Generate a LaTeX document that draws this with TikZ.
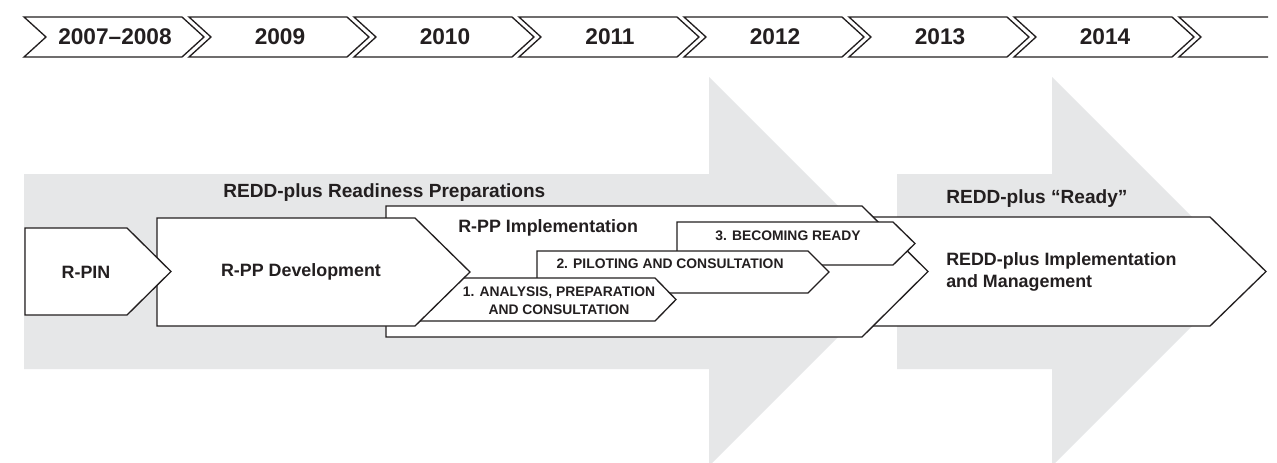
\documentclass[tikz,border=0pt]{standalone}
\usepackage{fontspec}
\setmainfont{Liberation Sans}
\usetikzlibrary{positioning}
\definecolor{inkdark}{HTML}{231F20}
\definecolor{arrowgrey}{HTML}{E6E7E8}

\tikzset{
  stagebox/.style={draw=inkdark, fill=white, line width=1pt, line join=miter},
  yearlabel/.style={inkdark, font=\fontsize{17}{17}\selectfont\bfseries},
  stagelabel/.style={inkdark, inner sep=0pt, font=\fontsize{13.4}{16.5}\selectfont\bfseries},
  headlabel/.style={inkdark, inner sep=0pt, anchor=base west, font=\fontsize{14.3}{17}\selectfont\bfseries},
  phaselabel/.style={inkdark, inner sep=0pt, font=\fontsize{10.4}{13.5}\selectfont\bfseries}
}

\begin{document}
\begin{tikzpicture}[x=0.75pt, y=-0.75pt]
  \clip (0,0) rectangle (1277,462);
  \fill[white] (0,0) rectangle (1277,462);

  % Year ribbon
  \foreach \yr [count=\i from 0] in {2007--2008, 2009, 2010, 2011, 2012, 2013, 2014} {
    \draw[stagebox] (24+165*\i, 17) -- ++(158,0) -- ++(22,20) -- ++(-22,20) -- ++(-158,0) -- ++(22,-20) -- cycle;
    \node[yearlabel] (year\i) at (115+165*\i, 37) {\yr};
  }
  % open chevron at the end of the ribbon
  \draw[stagebox, fill=none] (1268,17) -- (1179,17) -- (1201,37) -- (1179,57) -- (1268,57);

  % Big grey arrows: readiness, then ready
  \fill[arrowgrey] (24,174) -- (709,174) -- (709,77) -- (903.5,271.5) -- (709,466) -- (709,369) -- (24,369) -- cycle;
  \fill[arrowgrey] (897,174) -- (1052,174) -- (1052,77) -- (1246.5,271.5) -- (1052,466) -- (1052,369) -- (897,369) -- cycle;

  % Stage boxes, back to front
  \draw[stagebox] (800,217) -- (1210,217) -- (1266,271.5) -- (1210,326) -- (800,326) -- cycle;
  \draw[stagebox] (386,206) -- (862,206) -- (928,271.5) -- (862,337) -- (386,337) -- cycle;
  \draw[stagebox] (677,222) -- (893,222) -- (915,243.5) -- (893,265) -- (677,265) -- cycle;
  \draw[stagebox] (537,251) -- (808,251) -- (829,272) -- (808,293) -- (537,293) -- cycle;
  \draw[stagebox] (400,278) -- (655,278) -- (676,299.5) -- (655,321) -- (400,321) -- cycle;
  \draw[stagebox] (157,218) -- (415,218) -- (470,272) -- (415,326) -- (157,326) -- cycle;
  \draw[stagebox] (25,228) -- (127,228) -- (171,271.5) -- (127,315) -- (25,315) -- cycle;

  % Headings over the grey arrows
  \node[headlabel] (readiness) at (223,197) {REDD-plus Readiness Preparations};
  \node[headlabel] (ready) at (946,203) {REDD-plus “Ready”};

  % Stage labels
  \node[stagelabel] (rpin) at (86,272) {R-PIN};
  \node[stagelabel] (rppdev) at (301,272) {R-PP Development};
  \node[stagelabel, anchor=base west] (rppimpl) at (458,232) {R-PP Implementation};
  \node[stagelabel, anchor=west, align=left] (reddimpl) at (946,272.4) {REDD-plus Implementation\\and Management};

  % Phases inside the implementation box
  \node[phaselabel, align=center] (phase1) at (559,301) {1. ANALYSIS, PREPARATION\\AND CONSULTATION};
  \node[phaselabel, anchor=base] (phase2) at (670,268) {2. PILOTING AND CONSULTATION};
  \node[phaselabel, anchor=base] (phase3) at (788,240) {3. BECOMING READY};
\end{tikzpicture}
\end{document}
